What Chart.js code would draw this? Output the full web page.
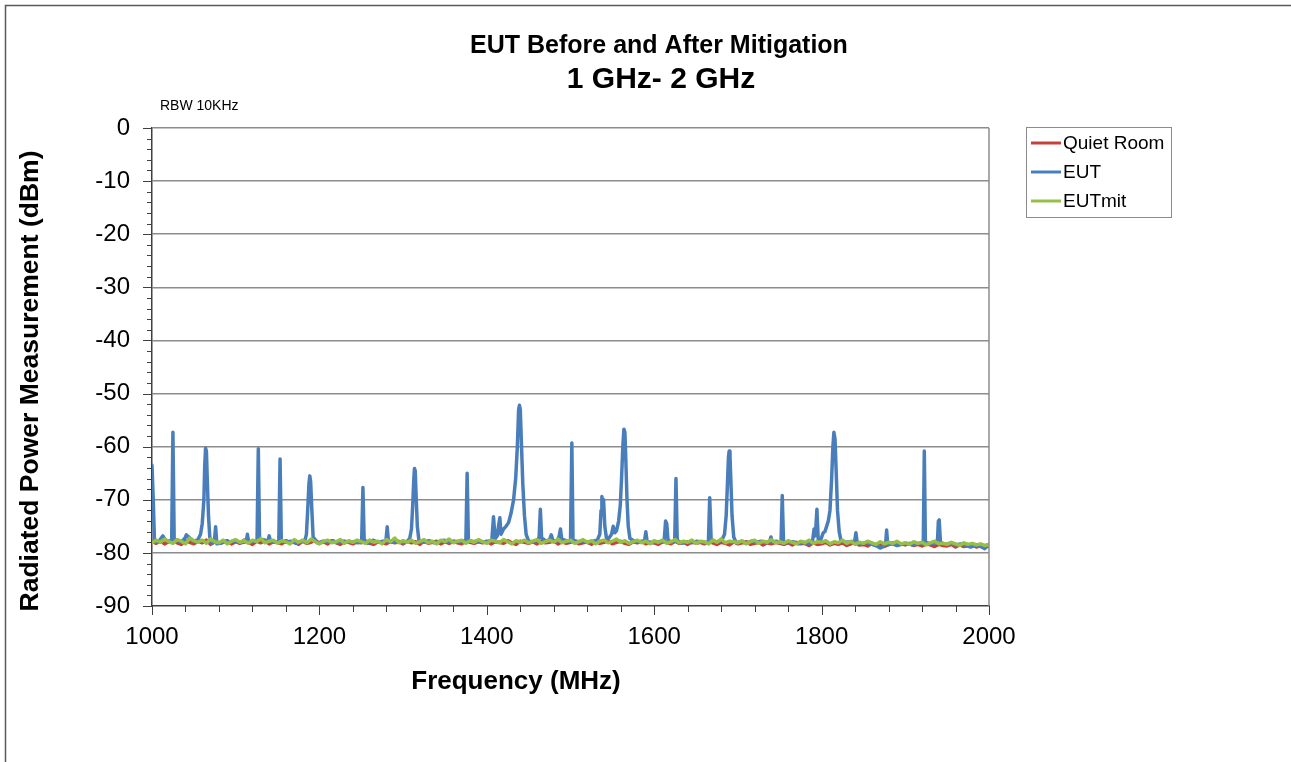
<!DOCTYPE html>
<html>
<head>
<meta charset="utf-8">
<script src="https://cdn.jsdelivr.net/npm/chart.js@4.4.0/dist/chart.umd.min.js"></script>
<style>
  html, body { margin: 0; padding: 0; background: #ffffff; }
  #wrap { width: 1291px; height: 762px; position: relative; }
</style>
</head>
<body>
<div id="wrap"><canvas id="c" width="1291" height="762"></canvas></div>
<script>
// ---------------- DATA ----------------
const chartTitle = "EUT Before and After Mitigation";
const chartSubtitle = "1 GHz- 2 GHz";
const noteText = "RBW 10KHz";
const xAxisTitle = "Frequency (MHz)";
const yAxisTitle = "Radiated Power Measurement (dBm)";
const seriesNames = ["Quiet Room", "EUT", "EUTmit"];
const xTickValues = [1000, 1200, 1400, 1600, 1800, 2000];
const yTickValues = [0, -10, -20, -30, -40, -50, -60, -70, -80, -90];

// Noise-floor traces sampled every 5 MHz from 1000 to 2000 MHz
const noiseStartMHz = 1000;
const noiseStepMHz = 5;
const quietRoomDbm = [
  -77.8,-78.2,-77.7,-78.3,-77.9,-77.6,-78.1,-78.4,-77.7,-78.0,
  -78.3,-77.8,-78.1,-77.6,-78.4,-77.9,-78.2,-78.0,-77.7,-78.3,
  -77.9,-78.2,-77.6,-78.0,-78.4,-77.8,-78.1,-77.7,-78.3,-77.9,
  -78.0,-78.3,-77.7,-78.1,-77.9,-78.4,-77.8,-78.2,-78.0,-77.6,
  -78.2,-77.9,-78.3,-77.7,-78.1,-78.4,-77.8,-78.0,-78.3,-77.9,
  -78.1,-77.7,-78.2,-78.4,-77.9,-78.0,-78.3,-77.8,-78.1,-77.9,
  -78.3,-77.8,-78.1,-77.9,-78.4,-77.7,-78.2,-78.0,-77.8,-78.3,
  -77.9,-78.2,-77.8,-78.1,-78.3,-77.7,-78.0,-78.2,-77.9,-78.1,
  -77.8,-78.3,-77.9,-78.0,-78.2,-77.7,-78.1,-78.4,-77.8,-78.0,
  -78.2,-77.9,-78.3,-77.8,-78.1,-78.0,-77.7,-78.3,-77.9,-78.2,
  -78.0,-77.8,-78.3,-78.1,-77.9,-78.4,-77.8,-78.2,-78.0,-77.7,
  -78.3,-78.0,-77.8,-78.2,-78.4,-77.9,-78.1,-77.8,-78.3,-78.0,
  -78.1,-78.4,-77.9,-78.0,-78.3,-77.8,-78.2,-78.0,-78.4,-77.9,
  -78.2,-78.0,-78.3,-77.9,-78.1,-78.4,-78.0,-78.2,-78.5,-77.9,
  -78.3,-78.1,-77.9,-78.4,-78.2,-78.0,-78.5,-78.1,-78.3,-78.0,
  -78.2,-78.4,-78.1,-78.5,-78.0,-78.3,-78.2,-78.6,-78.1,-78.4,
  -78.3,-78.0,-78.5,-78.2,-78.4,-78.1,-78.6,-78.3,-78.0,-78.5,
  -78.4,-78.7,-78.2,-78.5,-78.3,-78.8,-78.4,-78.1,-78.6,-78.3,
  -78.5,-78.2,-78.6,-78.4,-78.7,-78.3,-78.5,-78.8,-78.4,-78.6,
  -78.7,-78.4,-78.9,-78.5,-78.8,-78.6,-78.4,-78.9,-78.6,-79.0,
  -78.7
];
const eutMitDbm = [
  -78.1,-77.6,-78.0,-77.4,-77.9,-78.2,-77.5,-77.8,-78.3,-77.2,
  -77.7,-78.0,-77.6,-78.2,-77.4,-77.9,-78.1,-77.6,-78.3,-77.8,
  -77.5,-78.0,-77.7,-78.2,-77.6,-77.9,-77.3,-78.1,-77.8,-77.6,
  -78.2,-77.7,-77.9,-78.3,-77.5,-78.0,-77.6,-78.1,-77.4,-77.9,
  -78.3,-77.8,-77.6,-78.1,-77.9,-77.5,-78.2,-77.7,-78.0,-77.6,
  -77.9,-78.2,-77.6,-78.0,-77.8,-78.3,-77.5,-77.9,-77.2,-78.1,
  -77.7,-78.0,-77.6,-78.2,-77.9,-77.5,-78.1,-77.8,-78.3,-77.6,
  -77.9,-77.4,-78.1,-77.8,-77.6,-78.2,-77.7,-78.0,-77.5,-77.9,
  -78.2,-77.6,-77.8,-78.1,-77.5,-77.9,-78.3,-77.7,-78.0,-77.6,
  -78.1,-77.8,-77.5,-78.2,-77.9,-77.6,-78.0,-77.4,-78.1,-77.8,
  -77.6,-78.2,-77.9,-77.5,-78.0,-77.7,-78.3,-77.8,-77.6,-78.1,
  -77.8,-77.4,-78.0,-77.7,-78.2,-77.9,-77.6,-78.1,-77.8,-78.3,
  -77.7,-78.0,-77.6,-78.2,-77.9,-77.5,-78.1,-77.8,-78.0,-77.6,
  -78.2,-77.8,-77.9,-78.3,-77.6,-78.0,-77.4,-78.1,-77.8,-77.9,
  -78.1,-77.7,-78.3,-77.9,-77.6,-78.2,-77.8,-78.0,-77.5,-78.1,
  -77.9,-78.2,-77.7,-78.0,-78.3,-77.8,-78.1,-77.6,-78.2,-77.9,
  -78.0,-77.7,-78.3,-77.9,-78.1,-77.6,-78.2,-77.8,-78.4,-78.0,
  -78.2,-77.8,-78.1,-78.4,-77.9,-78.3,-78.0,-78.2,-77.8,-78.3,
  -78.1,-78.4,-77.9,-78.2,-78.0,-78.5,-78.1,-77.8,-78.3,-78.2,
  -78.4,-78.0,-78.3,-78.6,-78.1,-78.4,-78.2,-78.5,-78.3,-78.6,
  -78.4
];

// EUT trace (frequency in MHz, level in dBm)
const eutFreq = [
  1000,1001.5,1003,1008,1013,1016,1020,1023.5,1025,1026.5,
  1030,1035,1039.5,1041,1043,1046,1050,1055,1058,1060,
  1062,1063,1064,1065,1066,1067.5,1069,1072,1074.5,1076,
  1077.5,1082,1088,1094,1100,1106,1110,1112.5,1114,1115.5,
  1120,1125.5,1127,1128.5,1133,1138.5,1140,1141.5,1147,1151.5,
  1153,1154.5,1160,1166,1172,1178,1183,1184.5,1186,1187.5,
  1188.5,1189.5,1191,1192.5,1198,1204,1210,1216,1222,1228,
  1234,1240,1246,1250.5,1252,1253.5,1258,1264,1270,1276,
  1279.5,1281,1282.5,1288,1294,1300,1305,1308,1310,1311.5,
  1312.8,1313.6,1314.5,1315.5,1317,1319,1325,1331,1337,1343,
  1349,1355,1361,1367,1373,1375,1376.5,1378,1384,1390,
  1396,1402,1406,1408,1410,1412.5,1414,1415.6,1417,1420,
  1423,1426,1429,1432,1434.5,1436.5,1438,1439,1440,1441.5,
  1443,1445,1447,1450,1456,1461,1462.5,1464,1465.5,1471,
  1475,1477,1479,1484,1486.5,1488,1489.5,1495,1500,1501.6,
  1503,1509,1515,1521,1527,1532,1535,1536.5,1537.5,1538.5,
  1539.5,1541,1543,1546,1549,1551,1553,1555,1557.5,1559.5,
  1561,1562.5,1563.8,1565,1566,1567.5,1569,1571,1577,1583,
  1588.5,1590,1591.5,1597,1603,1609,1612,1613.6,1615,1616.5,
  1621,1624.5,1626,1627.5,1633,1639,1645,1651,1657,1662,
  1664.8,1666.3,1668,1674,1679,1682,1684,1686,1687.5,1688.7,
  1689.6,1690.5,1691.5,1693,1695,1698,1704,1710,1716,1722,
  1728,1734,1738,1739.5,1741,1746,1751.5,1753,1754.5,1760,
  1766,1772,1778,1784,1789,1791,1792.5,1794.4,1796,1799,
  1802,1804,1806,1808,1810,1812,1813.5,1814.7,1816,1817.5,
  1819,1821,1823,1829,1835,1839.5,1841,1842.5,1848,1854,
  1860,1866,1870,1874,1876.5,1877.7,1879,1884,1890,1896,
  1902,1908,1914,1920,1921.5,1922.7,1924,1930,1936,1938.5,
  1939.5,1940.5,1942,1948,1954,1960,1966,1972,1978,1984,
  1990,1995,1998,2000
];
const eutDbm = [
  -63.5,-70,-78,-77.9,-76.8,-77.6,-77.8,-77.8,-57.3,-77.5,
  -77.6,-78.0,-77.2,-76.6,-76.9,-77.3,-77.8,-77.5,-76.5,-74.5,
  -70,-63.5,-60.3,-60.8,-66,-73,-77,-78.2,-77.8,-75.1,
  -78.3,-78.2,-77.8,-78.0,-77.7,-78.1,-78.0,-77.9,-76.5,-78.0,
  -77.8,-77.8,-60.4,-77.6,-77.5,-77.8,-76.8,-77.8,-78.0,-77.8,
  -62.3,-77.7,-78.0,-77.8,-78.2,-77.9,-77.5,-76.5,-72,-67,
  -65.5,-66.5,-72,-77,-78.2,-77.8,-78.0,-77.7,-78.1,-77.8,
  -78.0,-77.9,-78.1,-77.8,-67.7,-77.7,-78.2,-77.6,-78.0,-77.8,
  -77.7,-75.1,-77.9,-78.0,-77.8,-78.1,-77.9,-77.2,-75.5,-71,
  -66,-64.1,-64.6,-69,-75,-77.8,-78.0,-77.7,-78.1,-77.9,
  -77.6,-78.0,-77.8,-77.9,-77.7,-77.8,-65.0,-77.6,-77.9,-77.7,
  -78.0,-77.8,-77.6,-73.2,-77.3,-76.8,-75.0,-73.4,-76.5,-75.5,
  -75.0,-74.3,-72.5,-70,-66,-60,-53,-52.2,-53,-60,
  -67,-73,-76.5,-77.8,-77.9,-77.6,-77.0,-71.8,-77.2,-77.8,
  -77.5,-76.6,-77.7,-77.8,-76.8,-75.5,-77.4,-77.7,-77.8,-59.3,
  -77.6,-77.9,-77.7,-78.1,-77.8,-77.6,-76.5,-72,-69.4,-70.5,
  -70,-75,-77.3,-77.2,-76.5,-75.0,-76.2,-75.8,-74,-71,
  -66,-60,-56.7,-57.3,-62,-70,-75,-77.3,-77.8,-78.0,
  -77.7,-76.0,-77.9,-78.1,-78.0,-77.8,-77.5,-74,-74.5,-77.6,
  -78.0,-77.8,-66,-77.6,-78.2,-77.9,-78.1,-77.8,-78.0,-78.1,
  -77.8,-69.6,-77.4,-78.0,-77.7,-77.2,-76.5,-73,-67,-62,
  -60.8,-61.5,-66,-73,-77,-78.1,-77.9,-78.2,-77.8,-78.0,
  -77.8,-78.1,-77.8,-77.0,-78.0,-77.8,-78.1,-69.2,-78.0,-78.1,
  -77.9,-78.3,-78.0,-78.2,-78.0,-75.5,-76.8,-71.8,-77.6,-77.5,
  -76.2,-76.0,-75.0,-74.0,-72,-66,-60,-57.3,-58.5,-65,
  -72,-76,-77.6,-78.0,-77.9,-77.8,-76.2,-78.1,-78.3,-78.0,
  -78.4,-78.7,-79.1,-78.8,-78.4,-75.7,-78.5,-78.3,-78.6,-78.4,
  -78.2,-78.5,-78.3,-78.1,-78.2,-60.8,-78.0,-78.3,-78.1,-77.5,
  -74.0,-73.8,-78.0,-78.4,-78.2,-78.5,-78.3,-78.6,-78.9,-78.6,
  -78.8,-79.2,-78.5,-78.7
];

// ---------------- BUILD ----------------
const noisePoints = (vals) => vals.map((v, i) => ({ x: noiseStartMHz + i * noiseStepMHz, y: v }));
const eutPoints = eutFreq.map((f, i) => ({ x: f, y: eutDbm[i] }));

const FONT = "'Liberation Sans', Arial, sans-serif";
const colors = { quiet: '#C8403C', eut: '#4A7EBB', mit: '#98BF45' };

const decorPlugin = {
  id: 'decor',
  beforeDraw(chart) {
    const ctx = chart.ctx;
    ctx.save();
    ctx.fillStyle = '#ffffff';
    ctx.fillRect(0, 0, chart.width, chart.height);
    ctx.strokeStyle = '#595959';
    ctx.lineWidth = 1.5;
    ctx.beginPath();
    ctx.moveTo(5.5, chart.height + 2);
    ctx.lineTo(5.5, 5.5);
    ctx.lineTo(chart.width + 2, 5.5);
    ctx.stroke();
    ctx.restore();
  },
  afterDraw(chart) {
    const ctx = chart.ctx;
    const xs = chart.scales.x, ys = chart.scales.y;
    const a = chart.chartArea;
    ctx.save();
    ctx.strokeStyle = '#8c8c8c';
    ctx.lineWidth = 1.5;
    ctx.beginPath();
    ctx.moveTo(a.right, a.top);
    ctx.lineTo(a.right, a.bottom);
    ctx.stroke();
    ctx.strokeStyle = '#404040';
    ctx.lineWidth = 1;
    ctx.beginPath();
    for (let v = ys.min; v <= ys.max + 0.001; v += 2) {
      const py = Math.round(ys.getPixelForValue(v)) + 0.5;
      const major = Math.abs(v % 10) < 0.001;
      ctx.moveTo(a.left - (major ? 9 : 5), py);
      ctx.lineTo(a.left, py);
    }
    for (let f = xs.min; f <= xs.max + 0.001; f += 40) {
      const px = Math.round(xs.getPixelForValue(f)) + 0.5;
      const major = Math.abs(f % 200) < 0.001;
      ctx.moveTo(px, a.bottom);
      ctx.lineTo(px, a.bottom + (major ? 9 : 6));
    }
    ctx.stroke();
    ctx.fillStyle = '#000000';
    ctx.textAlign = 'center';
    ctx.textBaseline = 'alphabetic';
    ctx.font = 'bold 25px ' + FONT;
    ctx.fillText(chartTitle, 659, 53);
    ctx.font = 'bold 30px ' + FONT;
    ctx.fillText(chartSubtitle, 661, 88);
    ctx.textAlign = 'left';
    ctx.font = '14px ' + FONT;
    ctx.fillText(noteText, 160, 110);
    ctx.font = 'bold 26px ' + FONT;
    ctx.textAlign = 'center';
    ctx.fillText(xAxisTitle, 516, 689);
    ctx.save();
    ctx.translate(38, 381);
    ctx.rotate(-Math.PI / 2);
    ctx.font = 'bold 26.5px ' + FONT;
    ctx.fillText(yAxisTitle, 0, 0);
    ctx.restore();
    const lx = 1026.5, ly = 127.5, lw = 145, lh = 90;
    ctx.strokeStyle = '#8c8c8c';
    ctx.lineWidth = 1;
    ctx.strokeRect(lx, ly, lw, lh);
    const rowsY = [143, 172, 201];
    ctx.font = '19px ' + FONT;
    ctx.textAlign = 'left';
    ctx.textBaseline = 'middle';
    chart.data.datasets.forEach((ds, i) => {
      ctx.strokeStyle = ds.borderColor;
      ctx.lineWidth = 3;
      ctx.beginPath();
      ctx.moveTo(1031, rowsY[i]);
      ctx.lineTo(1061, rowsY[i]);
      ctx.stroke();
      ctx.fillStyle = '#000000';
      ctx.fillText(ds.label, 1063, rowsY[i] + 1);
    });
    ctx.restore();
  }
};

new Chart(document.getElementById('c'), {
  type: 'line',
  data: {
    datasets: [
      { label: seriesNames[0], data: noisePoints(quietRoomDbm), borderColor: colors.quiet, borderWidth: 3.5, order: 3 },
      { label: seriesNames[1], data: eutPoints, borderColor: colors.eut, borderWidth: 3.5, order: 2 },
      { label: seriesNames[2], data: noisePoints(eutMitDbm), borderColor: colors.mit, borderWidth: 3.5, order: 1 }
    ]
  },
  options: {
    responsive: false,
    animation: false,
    devicePixelRatio: 1,
    elements: {
      point: { radius: 0, hoverRadius: 0 },
      line: { tension: 0, fill: false, borderJoinStyle: 'round', borderCapStyle: 'round' }
    },
    layout: { padding: { left: 0, top: 128, right: 302, bottom: 0 } },
    plugins: {
      legend: { display: false },
      title: { display: false },
      tooltip: { enabled: false }
    },
    scales: {
      x: {
        type: 'linear',
        min: 1000, max: 2000,
        afterFit: (s) => { s.height = 156; },
        afterBuildTicks: (s) => { s.ticks = xTickValues.map(v => ({ value: v })); },
        ticks: { font: { family: FONT, size: 24 }, color: '#000000', padding: 17, maxRotation: 0, autoSkip: false, callback: (v) => String(v) },
        grid: { display: false, drawTicks: false },
        border: { display: true, color: '#404040', width: 1.5 }
      },
      y: {
        type: 'linear',
        min: -90, max: 0,
        afterFit: (s) => { s.width = 152; },
        afterBuildTicks: (s) => { s.ticks = yTickValues.map(v => ({ value: v })); },
        ticks: { font: { family: FONT, size: 24 }, color: '#000000', padding: 22, autoSkip: false, callback: (v) => String(v) },
        grid: { color: (c) => (c.tick && c.tick.value === -90 ? 'rgba(0,0,0,0)' : '#8c8c8c'), lineWidth: 1.5, drawTicks: false },
        border: { display: true, color: '#404040', width: 1.5 }
      }
    }
  },
  plugins: [decorPlugin]
});
</script>
</body>
</html>
